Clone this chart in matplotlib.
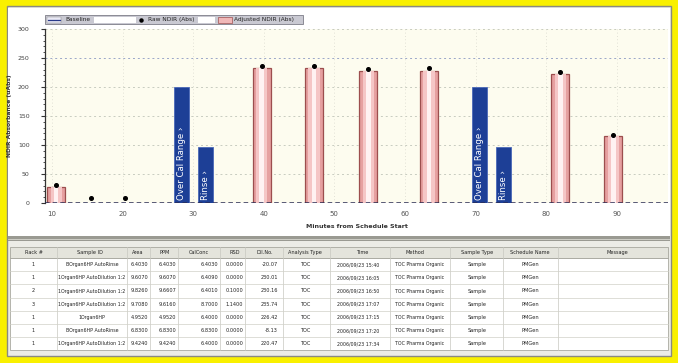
import matplotlib
matplotlib.use("Agg")
import matplotlib.pyplot as plt
from matplotlib.patches import Rectangle

W, H = 678, 363

# ---------------- data ----------------
adj_minutes = [10.6, 39.7, 47.1, 54.8, 63.4, 82.0, 89.5]
adj_values = [28, 233, 233, 228, 228, 222, 115]
raw_minutes = [10.6, 15.5, 20.3, 39.7, 47.1, 54.8, 63.4, 82.0, 89.5]
raw_values = [31, 8, 8, 236, 236, 231, 233, 226, 117]
flag_minutes = [28.4, 31.7, 70.6, 73.9]
flag_values = [200, 96, 200, 96]
flag_labels = ["Over Cal Range \u203a", "Rinse \u203a", "Over Cal Range \u203a", "Rinse \u203a"]
x_ticks = [10, 20, 30, 40, 50, 60, 70, 80, 90]
y_ticks = [0, 50, 100, 150, 200, 250, 300]
legend_labels = ["Baseline", "Raw NDIR (Abs)", "Adjusted NDIR (Abs)"]

table_header = ["Rack #", "Sample ID", "Area", "PPM", "CalConc", "RSD", "Dil.No.",
                "Analysis Type", "Time", "Method", "Sample Type", "Schedule Name", "Message"]
table_rows = [
    ["1", "BOrgan6HP AutoRinse", "6.4030", "6.4030", "6.4030", "0.0000", "-20.07", "TOC",
     "2006/09/23 15:40", "TOC Pharma Organic", "Sample", "PMGen", ""],
    ["1", "1Organ6HP AutoDilution 1:2", "9.6070", "9.6070", "6.4090", "0.0000", "230.01", "TOC",
     "2006/09/23 16:05", "TOC Pharma Organic", "Sample", "PMGen", ""],
    ["2", "1Organ6HP AutoDilution 1:2", "9.8260", "9.6607", "6.4010", "0.1000", "230.16", "TOC",
     "2006/09/23 16:50", "TOC Pharma Organic", "Sample", "PMGen", ""],
    ["3", "1Organ6HP AutoDilution 1:2", "9.7080", "9.6160", "8.7000", "1.1400", "235.74", "TOC",
     "2006/09/23 17:07", "TOC Pharma Organic", "Sample", "PMGen", ""],
    ["1", "1Organ6HP", "4.9520", "4.9520", "6.4000", "0.0000", "226.42", "TOC",
     "2006/09/23 17:15", "TOC Pharma Organic", "Sample", "PMGen", ""],
    ["1", "BOrgan6HP AutoRinse", "6.8300", "6.8300", "6.8300", "0.0000", "-8.13", "TOC",
     "2006/09/23 17:20", "TOC Pharma Organic", "Sample", "PMGen", ""],
    ["1", "1Organ6HP AutoDilution 1:2", "9.4240", "9.4240", "6.4000", "0.0000", "220.47", "TOC",
     "2006/09/23 17:34", "TOC Pharma Organic", "Sample", "PMGen", ""],
]


def px(x0, y0, x1, y1):
    return [x0 / W, 1 - y1 / H, (x1 - x0) / W, (y1 - y0) / H]


fig = plt.figure(figsize=(W / 100, H / 100), dpi=100)
fig.patch.set_facecolor("#f9f000")

# ---------- background / decoration axes (pixel coords) ----------
bg = fig.add_axes([0, 0, 1, 1])
bg.set_xlim(0, W)
bg.set_ylim(H, 0)
bg.axis("off")
bg.add_patch(Rectangle((7, 6), 664, 350, facecolor="#ecece6", edgecolor="#8a8a80", lw=1.0))
bg.add_patch(Rectangle((8, 8), 662, 228, facecolor="#ffffff", edgecolor="none"))
# separator
bg.add_patch(Rectangle((8, 236), 662, 5, facecolor="#9a9a92", edgecolor="none"))
bg.plot([8, 670], [238.5, 238.5], color="#d8d8d0", lw=0.6)

# legend strip
bg.add_patch(Rectangle((45, 15), 258, 9, facecolor="#c9c9d2", edgecolor="#7d7d88", lw=0.6))
bg.add_patch(Rectangle((94, 16.5), 42, 6, facecolor="#ffffff", edgecolor="none"))
bg.add_patch(Rectangle((198, 16.5), 17, 6, facecolor="#ffffff", edgecolor="none"))
bg.add_patch(Rectangle((47, 16.5), 14, 6, facecolor="#eaeaf5", edgecolor="#888", lw=0.3))
bg.plot([48, 60], [19.5, 19.5], color="#2a3a8a", lw=0.9)
bg.plot([141], [19.5], "o", color="black", ms=2.2)
bg.add_patch(Rectangle((218, 16.5), 14, 6, facecolor="#f0b8b8", edgecolor="#a05050", lw=0.5))
bg.text(65, 19.7, legend_labels[0], fontsize=4.2, va="center", ha="left", color="#222")
bg.text(148, 19.7, legend_labels[1], fontsize=4.2, va="center", ha="left", color="#222")
bg.text(234, 19.7, legend_labels[2], fontsize=4.2, va="center", ha="left", color="#222")

# ---------- chart axes ----------
ax = fig.add_axes(px(45, 29, 668, 203))
ax.set_facecolor("#fdfcef")
x_per_px = 10 / 70.6
x_left = 10 - (52 - 45) * x_per_px
x_right = 10 + (668 - 52) * x_per_px
ax.set_xlim(x_left, x_right)
ax.set_ylim(0, 300)

for yv in y_ticks[1:]:
    ax.axhline(yv, color="#9aa6c8" if yv == 250 else "#c8ccc0", lw=0.7,
               ls=(0, (2, 3)), zorder=0)
for xv in x_ticks:
    ax.axvline(xv, color="#d8d8cc", lw=0.6, ls=(0, (1, 3)), zorder=0)

# pink "cylinder" bars
pink_w = 2.55
ax.bar(adj_minutes, adj_values, width=pink_w, color="#e6a0a0", edgecolor="#9c4e4e",
       lw=0.9, zorder=3)
ax.bar(adj_minutes, adj_values, width=pink_w * 0.62, color="#f5c6c6", edgecolor="none",
       zorder=4)
ax.bar(adj_minutes, adj_values, width=pink_w * 0.25, color="#fff2f2", edgecolor="none",
       zorder=5)

# blue flag bars
blue_w = 2.1
ax.bar(flag_minutes, flag_values, width=blue_w, color="#1d3f96", edgecolor="#4a68b8",
       lw=0.6, zorder=3)
for m, lab in zip(flag_minutes, flag_labels):
    ax.text(m, 6, lab, rotation=90, color="white", fontsize=6.2, ha="center",
            va="bottom", zorder=6)

# baseline
ax.axhline(0, color="#2b2d55", lw=1.1, ls=(0, (3, 2)), zorder=6)

# raw points
ax.plot(raw_minutes, raw_values, "o", color="black", ms=2.6, zorder=7)

ax.set_xticks(x_ticks)
ax.set_xticklabels([str(v) for v in x_ticks], fontsize=5, color="#555")
ax.set_yticks(y_ticks)
ax.set_yticklabels([str(v) for v in y_ticks], fontsize=4.5, color="#444")
ax.yaxis.set_minor_locator(matplotlib.ticker.MultipleLocator(10))
ax.tick_params(axis="y", which="major", length=3, width=0.8, color="#333", pad=8)
ax.tick_params(axis="y", which="minor", length=1.5, width=0.6, color="#333")
ax.tick_params(axis="x", length=0, pad=6)
for s in ["top", "right", "bottom"]:
    ax.spines[s].set_visible(False)
ax.spines["left"].set_color("#333")
ax.spines["left"].set_linewidth(0.9)
ax.set_xlabel("Minutes from Schedule Start", fontsize=4.5, fontweight="bold",
              color="#333", labelpad=5)
ax.set_ylabel("NDIR Absorbance (uAbs)", fontsize=4.3, fontweight="bold", color="#333",
              labelpad=4)

# ---------- table (pixel coords on bg) ----------
col_edges = [10, 57, 127, 150, 178, 220, 245, 283, 330, 390, 450, 503, 558, 668]
header_top, header_h, row_h = 247, 11, 13.2
n_rows = len(table_rows)
bg.add_patch(Rectangle((10, header_top), 658, header_h, facecolor="#e4e4dc",
                       edgecolor="#9a9a90", lw=0.5))
bg.add_patch(Rectangle((10, header_top + header_h), 658, row_h * n_rows,
                       facecolor="#ffffff", edgecolor="#9a9a90", lw=0.5))
for e in col_edges[1:-1]:
    bg.plot([e, e], [header_top, header_top + header_h + row_h * n_rows],
            color="#c8c8c0", lw=0.5)
for i in range(1, n_rows):
    y = header_top + header_h + i * row_h
    bg.plot([10, 668], [y, y], color="#d0d0c8", lw=0.5)

header_x = [34, 90, 138, 165, 199, 235, 265, 305, 362, 415, 477, 530, 617]
for hx, lab in zip(header_x, table_header):
    bg.text(hx, header_top + header_h / 2, lab, fontsize=3.6, ha="center",
            va="center", color="#222")

# (x, ha, fontsize) for each data column
cell_fmt = [(33, "center", 3.6), (92, "center", 3.4), (148, "right", 3.6),
            (176, "right", 3.6), (218, "right", 3.6), (243, "right", 3.6),
            (278, "right", 3.6), (305, "center", 3.6), (358, "center", 3.4),
            (420, "center", 3.4), (477, "center", 3.6), (530, "center", 3.6),
            (612, "center", 3.6)]
for r, row in enumerate(table_rows):
    yc = header_top + header_h + (r + 0.5) * row_h
    for (cx, ha, fs), val in zip(cell_fmt, row):
        if val:
            bg.text(cx, yc, val, fontsize=fs, ha=ha, va="center", color="#222")

fig.savefig("out.png", dpi=100, facecolor=fig.get_facecolor())
